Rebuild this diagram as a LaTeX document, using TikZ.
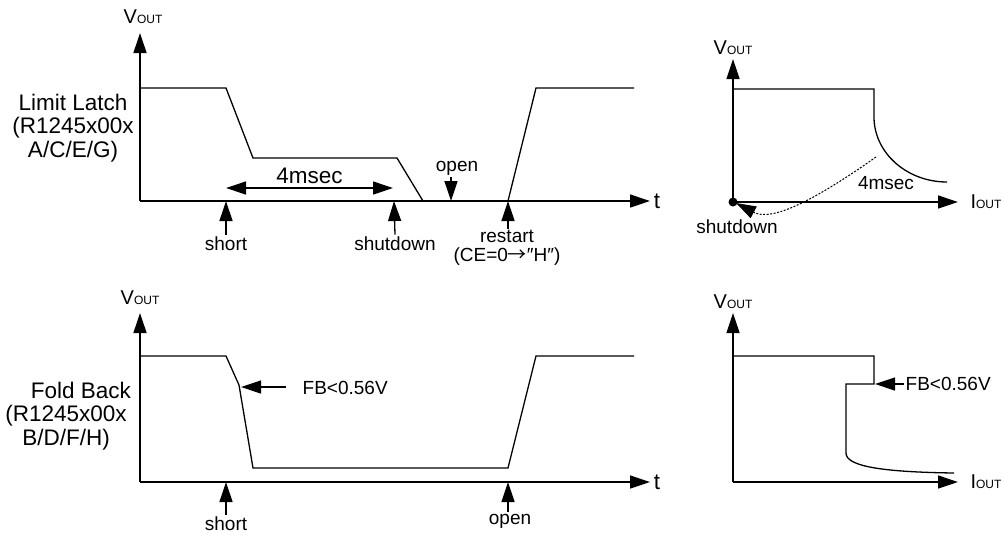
\documentclass[tikz,border=0pt]{standalone}
\usepackage{fontspec}
\setmainfont{Liberation Sans}
\newfontfamily\cjkfont{Noto Sans CJK JP}
\usetikzlibrary{arrows.meta}

\newcommand{\Vout}{V{\fontsize{12}{12}\selectfont OUT}}
\newcommand{\Iout}{I{\fontsize{12}{12}\selectfont OUT}}

\begin{document}
\begin{tikzpicture}[x=1pt,y=-1pt,line width=1.3pt,
   arr/.style={-{Triangle[length=20pt,width=13pt]}},
   arrs/.style={{Triangle[length=20pt,width=13pt]}-{Triangle[length=20pt,width=13pt]}},
   big/.style={font=\fontsize{22.5}{23.5}\selectfont},
   small/.style={font=\fontsize{19}{19}\selectfont,inner sep=1pt},
   axlabel/.style={font=\fontsize{20}{20}\selectfont}]
   \useasboundingbox (0,0) rectangle (1003,536);

   % limit latch, V_OUT against time
   \begin{scope}
     \draw[arr] (140,201) -- (140,33);
     \draw[arr] (140,201) -- (650,201) node[right,big] (t1) {t};
     \node[axlabel] (v1) at (143,17) {\Vout};
     \node[big,align=center] (latch) at (73,128) {Limit Latch\\(R1245x00x\\A/C/E/G)};
     \draw (140,88) -- (226,88) -- (253,158) -- (397,158) -- (423,201)
           -- (508,201) -- (536,88) -- (634,88);
     \draw[arrs] (226,188) -- (393,188) node[midway,above,big] (ms1) {4msec};
     \coordinate (short1) at (226,201);
     \coordinate (sd1) at (394,201);
     \coordinate (open1) at (451,201);
     \coordinate (rs1) at (508,201);
     \node[small,anchor=base] (short1lbl) at (226,250) {short};
     \node[small,anchor=base] (sd1lbl) at (395,250) {shutdown};
     \node[small,anchor=base] (open1lbl) at (457,171) {open};
     \node[small,align=center,anchor=north] (rs1lbl) at (507,229) {restart\\(CE=0{\cjkfont →}″H″)};
     \draw[arr] (short1lbl.north) -- (short1);
     \draw[arr] (sd1lbl.north) -- (sd1);
     \draw[arr] (open1lbl.south -| open1) -- (open1);
     \draw[arr] (rs1lbl.north -| rs1) -- (rs1);
   \end{scope}

   % limit latch, V_OUT against I_OUT
   \begin{scope}
     \draw[arr] (733,202) -- (733,59);
     \draw[arr] (733,202) -- (958,202);
     \node[axlabel] (v2) at (733,48) {\Vout};
     \node[axlabel] (i2) at (986,202) {\Iout};
     \draw (733,89) -- (874,89) -- (874,117) .. controls (874,153) and (907,182) .. (947,182);
     \fill (733,202) circle (4.5);
     \coordinate (zero2) at (736,203);
     \draw[arr,line width=1pt,dash pattern=on 2pt off 1.5pt] (876,157) .. controls (815,200) and (772,222) .. (zero2);
     \node[small] (ms2) at (886,183) {4msec};
     \node[small] (sd2) at (737,227) {shutdown};
   \end{scope}

   % fold back, V_OUT against time
   \begin{scope}
     \draw[arr] (140,482) -- (140,313);
     \draw[arr] (140,482) -- (650,482) node[right,big] (t3) {t};
     \node[axlabel] (v3) at (140,298) {\Vout};
     \node[big,align=center] (fold) at (66,416) {\hspace*{30pt}Fold Back\\(R1245x00x\\B/D/F/H)};
     \draw (140,356) -- (226,356) -- (239,385) -- (253,468) -- (508,468)
           -- (536,356) -- (634,356);
     \coordinate (fb3) at (241,387);
     \node[small,anchor=west] (fb3lbl) at (301,388) {FB<0.56V};
     \draw[arr,shorten <=15pt] (fb3lbl.west |- fb3) -- (fb3);
     \coordinate (short3) at (226,482);
     \coordinate (open3) at (508,482);
     \node[small,anchor=base] (short3lbl) at (226,530) {short};
     \node[small,anchor=base] (open3lbl) at (510,524) {open};
     \draw[arr] (short3lbl.north) -- (short3);
     \draw[arr] (open3lbl.north -| open3) -- (open3);
   \end{scope}

   % fold back, V_OUT against I_OUT
   \begin{scope}
     \draw[arr] (733,482) -- (733,313);
     \draw[arr] (733,482) -- (958,482);
     \node[axlabel] (v4) at (733,302) {\Vout};
     \node[axlabel] (i4) at (986,482) {\Iout};
     \draw (733,356) -- (874,356) -- (874,384) -- (846,384) -- (846,453)
           .. controls (846,466) and (880,472) .. (954,473);
     \coordinate (fb4) at (875,384);
     \node[small,anchor=west] (fb4lbl) at (904,384) {FB<0.56V};
     \draw[arr] (fb4lbl.west) -- (fb4);
   \end{scope}
\end{tikzpicture}
\end{document}
